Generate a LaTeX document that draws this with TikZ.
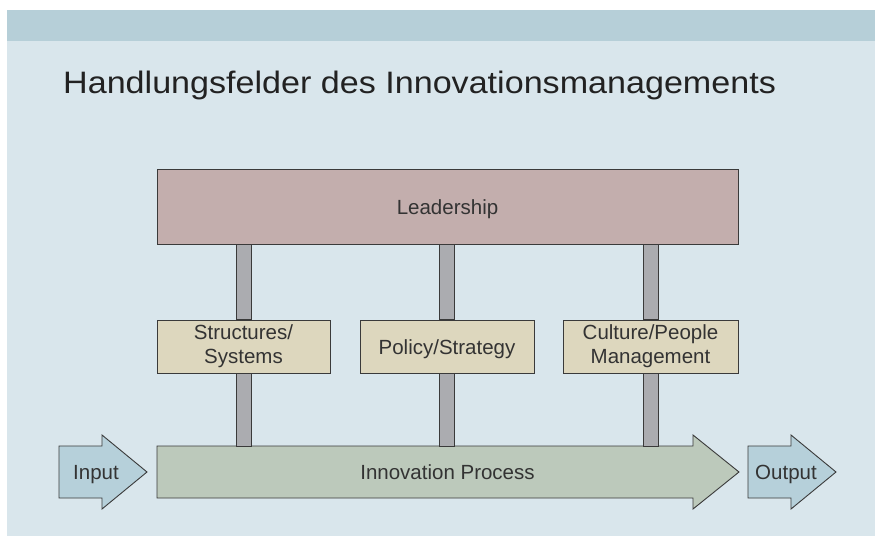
\documentclass[tikz,border=0pt]{standalone}
\usepackage{fontspec}
\setmainfont{Liberation Sans}
\definecolor{bandc}{HTML}{B6CFD8}
\definecolor{bgc}{HTML}{D9E6EC}
\definecolor{leadc}{HTML}{C3AEAD}
\definecolor{fieldc}{HTML}{DDD7BE}
\definecolor{pillarc}{HTML}{ABACB0}
\definecolor{procc}{HTML}{BCC9BB}
\definecolor{ioc}{HTML}{B6D0DA}
\definecolor{linec}{HTML}{3A3A3A}
\definecolor{txtc}{HTML}{333333}
\definecolor{titlec}{HTML}{222222}
\begin{document}
\begin{tikzpicture}[x=1pt,y=-1pt,
  lbl/.style={text=txtc, font=\fontsize{20.5}{24}\selectfont, inner sep=0pt},
  onel/.style={text height=15pt, text depth=0pt},
  boxc/.style={lbl, draw=linec, line width=0.9pt, rectangle, align=center},
  leadbox/.style={boxc, fill=leadc, minimum width=581pt, minimum height=75pt},
  fieldbox/.style={boxc, fill=fieldc, minimum height=53pt},
  pillar/.style={fill=pillarc, draw=linec, line width=0.9pt},
  bigarrow/.style={draw=linec, line width=0.9pt, line join=miter}]
\useasboundingbox (0,0) rectangle (875,536);
\fill[white] (0,0) rectangle (875,536);
% panel and header band
\fill[bgc] (7,10) rectangle (875,536);
\fill[bandc] (7,10) rectangle (875,41);

\node[anchor=base west, inner sep=0pt, text=titlec,
      font=\fontsize{31}{36}\selectfont] (title) at (63,93.5)
      {\scalebox{1.1}[1]{Handlungsfelder des Innovationsmanagements}};

% process arrows
\draw[bigarrow, fill=ioc] (59,446) -- (102,446) -- (102,435) -- (147,472)
      -- (102,509) -- (102,498) -- (59,498) -- cycle;
\draw[bigarrow, fill=procc] (157,446) -- (693,446) -- (693,435) -- (739,472)
      -- (693,509) -- (693,498) -- (157,498) -- cycle;
\draw[bigarrow, fill=ioc] (748,446) -- (791,446) -- (791,435) -- (836,472)
      -- (791,509) -- (791,498) -- (748,498) -- cycle;
\coordinate (proctop) at (157,446);
\node[lbl, onel] (inp) at (96,472) {Input};
\node[lbl, onel] (proc) at (447.5,472) {Innovation Process};
\node[lbl, onel] (outp) at (786,472) {Output};

% leadership and the three fields
\node[leadbox, onel] (lead) at (447.5,206.5) {Leadership};
\node[fieldbox, minimum width=173pt] (f1) at (243.5,346.5) {Structures/\\Systems};
\node[fieldbox, minimum width=174pt, onel] (f2) at (447,346.5) {Policy/Strategy};
\node[fieldbox, minimum width=175pt] (f3) at (650.5,346.5) {Culture/People\\Management};

% pillars linking leadership, fields and process
\foreach \f in {f1,f2,f3}{
  \draw[pillar] ([xshift=-7.5pt]\f.north |- lead.south) rectangle ([xshift=7.5pt]\f.north);
  \draw[pillar] ([xshift=-7.5pt]\f.south) rectangle ([xshift=7.5pt]\f.south |- proctop);
}
\end{tikzpicture}
\end{document}
